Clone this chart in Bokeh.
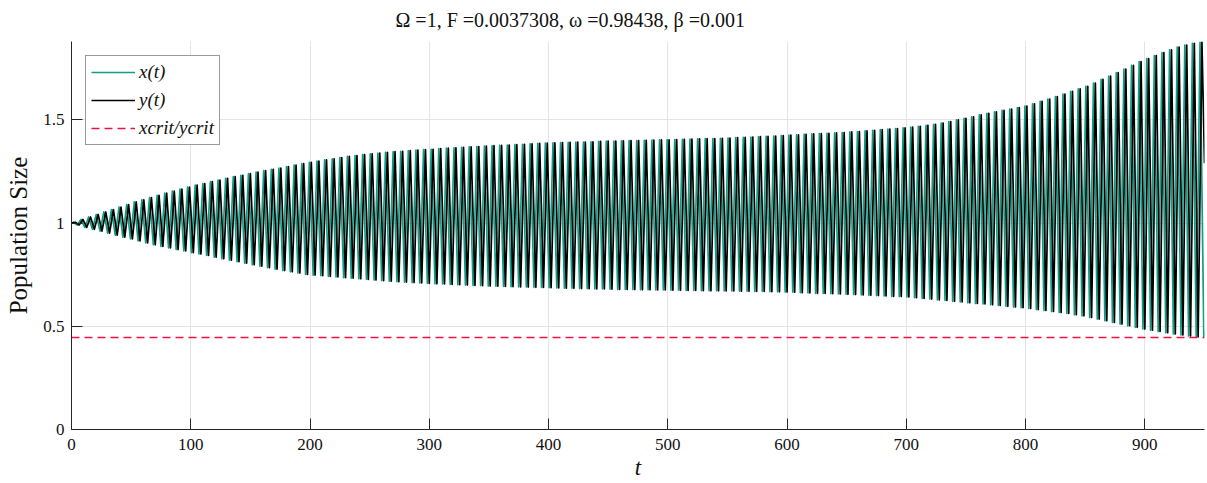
import math
from bokeh.plotting import figure
from bokeh.models import Range1d, Legend, LegendItem, FixedTicker, NumeralTickFormatter
from bokeh.embed import file_html
from bokeh.resources import INLINE

# ---- parameters (from title) ----
title_text = "Ω =1, F =0.0037308, ω =0.98438, β =0.001"
omega = 0.98438
t_start = 0.0
t_end = 950.0
x_start = 1.0
y_start = 1.0
x_end = 0.48
y_end = 1.29
x_crit = 0.446

# ---- per-cycle maxima / minima ----
peak_values = [
    1.004, 1.018, 1.030, 1.042, 1.054, 1.066, 1.078, 1.090, 1.103, 1.113,
    1.124, 1.135, 1.145, 1.155, 1.165, 1.175, 1.184, 1.192, 1.201, 1.209,
    1.217, 1.225, 1.232, 1.240, 1.247, 1.254, 1.261, 1.267, 1.274, 1.281,
    1.288, 1.295, 1.301, 1.307, 1.312, 1.318, 1.323, 1.327, 1.332, 1.336,
    1.339, 1.343, 1.346, 1.348, 1.351, 1.354, 1.356, 1.358, 1.361, 1.363,
    1.365, 1.367, 1.369, 1.371, 1.373, 1.375, 1.377, 1.378, 1.380, 1.382,
    1.384, 1.386, 1.388, 1.389, 1.390, 1.391, 1.392, 1.393, 1.394, 1.396,
    1.397, 1.398, 1.399, 1.400, 1.400, 1.401, 1.402, 1.403, 1.404, 1.405,
    1.406, 1.407, 1.408, 1.409, 1.410, 1.411, 1.412, 1.414, 1.415, 1.417,
    1.419, 1.420, 1.422, 1.424, 1.426, 1.428, 1.430, 1.432, 1.434, 1.435,
    1.437, 1.439, 1.442, 1.444, 1.447, 1.450, 1.453, 1.456, 1.458, 1.461,
    1.465, 1.469, 1.474, 1.479, 1.485, 1.492, 1.500, 1.508, 1.515, 1.524,
    1.532, 1.539, 1.546, 1.553, 1.560, 1.567, 1.578, 1.590, 1.601, 1.613,
    1.625, 1.638, 1.650, 1.663, 1.679, 1.696, 1.712, 1.729, 1.746, 1.764,
    1.783, 1.797, 1.812, 1.826, 1.840, 1.853, 1.863, 1.871, 1.877,
]
trough_values = [
    0.991, 0.979, 0.970, 0.961, 0.952, 0.942, 0.932, 0.923, 0.914, 0.904,
    0.895, 0.887, 0.880, 0.872, 0.865, 0.857, 0.850, 0.843, 0.835, 0.827,
    0.820, 0.813, 0.806, 0.798, 0.791, 0.784, 0.777, 0.770, 0.764, 0.758,
    0.751, 0.748, 0.745, 0.742, 0.739, 0.736, 0.733, 0.730, 0.727, 0.724,
    0.721, 0.719, 0.716, 0.714, 0.712, 0.710, 0.708, 0.706, 0.705, 0.703,
    0.702, 0.700, 0.698, 0.697, 0.695, 0.694, 0.693, 0.692, 0.691, 0.690,
    0.689, 0.688, 0.687, 0.686, 0.685, 0.684, 0.683, 0.682, 0.681, 0.681,
    0.680, 0.679, 0.679, 0.678, 0.677, 0.677, 0.676, 0.676, 0.675, 0.675,
    0.674, 0.674, 0.673, 0.672, 0.672, 0.671, 0.671, 0.670, 0.670, 0.669,
    0.669, 0.668, 0.667, 0.666, 0.665, 0.663, 0.662, 0.660, 0.659, 0.658,
    0.657, 0.655, 0.654, 0.652, 0.650, 0.649, 0.647, 0.645, 0.644, 0.642,
    0.639, 0.635, 0.632, 0.628, 0.625, 0.621, 0.618, 0.614, 0.611, 0.608,
    0.604, 0.601, 0.597, 0.594, 0.590, 0.586, 0.581, 0.577, 0.572, 0.567,
    0.562, 0.556, 0.551, 0.543, 0.535, 0.527, 0.519, 0.511, 0.503, 0.495,
    0.487, 0.481, 0.475, 0.469, 0.463, 0.458, 0.453, 0.449, 0.446,
]

x_ticks = [0, 100, 200, 300, 400, 500, 600, 700, 800, 900]
y_ticks = [0, 0.5, 1, 1.5]

# ---- assemble the two series (y lags x by a quarter cycle) ----
period = 2 * math.pi / omega
tx, vx = [t_start], [x_start]
ty, vy = [t_start], [y_start]
for k, (pk, tr) in enumerate(zip(peak_values, trough_values)):
    for t, v in (((k + 0.25) * period, pk), ((k + 0.75) * period, tr)):
        if t < t_end:
            tx.append(t); vx.append(v)
    for t, v in (((k + 0.5) * period, pk), ((k + 1.0) * period, tr)):
        if t < t_end:
            ty.append(t); vy.append(v)
tx.append(t_end); vx.append(x_end)
ty.append(t_end); vy.append(y_end)

TEAL = "#0f9d86"
RED = "#ee1144"
SERIF = "Liberation Serif"
AX = "#262626"
TXT = "#111111"

p = figure(width=1207, height=483, output_backend="svg", toolbar_location=None,
           x_range=Range1d(0, 950), y_range=Range1d(0, 1.88),
           min_border_left=71, min_border_right=3, min_border_top=40, min_border_bottom=54)
p.title.text = title_text
p.title.align = "left"
p.title.offset = 324
p.title.vertical_align = "top"
p.title.text_font = SERIF
p.title.text_font_size = "20px"
p.title.text_font_style = "normal"
p.title.text_color = TXT
p.title.standoff = 17
p.outline_line_color = None

r_x = p.line(tx, vx, line_color=TEAL, line_width=1.7, line_join="round")
r_y = p.line(ty, vy, line_color="black", line_width=1.7, line_join="round")
r_c = p.line([t_start, t_end], [x_crit, x_crit], line_color=RED, line_width=1.6, line_dash="8 5")

p.xaxis.ticker = FixedTicker(ticks=x_ticks)
p.yaxis.ticker = FixedTicker(ticks=y_ticks)
p.yaxis.formatter = NumeralTickFormatter(format="0.[0]")
for ax in (p.xaxis, p.yaxis):
    ax.major_tick_in = 11
    ax.major_tick_out = 0
    ax.minor_tick_line_color = None
    ax.axis_line_color = AX
    ax.major_tick_line_color = AX
    ax.major_label_text_font = SERIF
    ax.major_label_text_font_size = "17px"
    ax.major_label_text_color = TXT
    ax.axis_label_text_font = SERIF
    ax.axis_label_text_color = TXT
p.xaxis.major_label_standoff = 9
p.yaxis.major_label_standoff = 7
p.xaxis.axis_label = "t"
p.xaxis.axis_label_text_font_style = "italic"
p.xaxis.axis_label_text_font_size = "23px"
p.xaxis.axis_label_standoff = 2
p.yaxis.axis_label = "Population Size"
p.yaxis.axis_label_text_font_style = "normal"
p.yaxis.axis_label_text_font_size = "25px"
p.yaxis.axis_label_standoff = 8

p.grid.grid_line_color = "#e4e4e4"
p.grid.grid_line_width = 1

legend = Legend(items=[LegendItem(label="x(t)", renderers=[r_x]),
                       LegendItem(label="y(t)", renderers=[r_y]),
                       LegendItem(label="xcrit/ycrit", renderers=[r_c])],
                location="top_left")
legend.label_text_font = SERIF
legend.label_text_font_style = "italic"
legend.label_text_font_size = "19px"
legend.label_text_color = TXT
legend.glyph_width = 44
legend.glyph_height = 20
legend.label_height = 20
legend.label_standoff = 4
legend.spacing = 6
legend.padding = 5
legend.margin = 14
legend.border_line_color = "#333333"
legend.border_line_width = 1
legend.background_fill_alpha = 1.0
p.add_layout(legend)

open("out.html", "w").write(file_html(p, INLINE))
